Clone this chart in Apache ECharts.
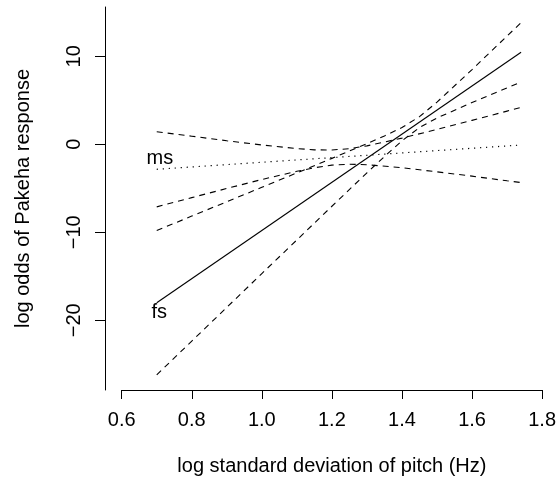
<!DOCTYPE html>
<html>
<head>
<meta charset="utf-8">
<script src="https://cdn.jsdelivr.net/npm/echarts@6/dist/echarts.min.js"></script>
<style>
  html, body { margin: 0; padding: 0; background: #fff; }
  #chart { width: 559px; height: 492px; }
</style>
</head>
<body>
<div id="chart"></div>
<script>
// fitted lines (straight on the log-odds scale), read at both ends
var fitX = [0.7, 1.74]
var fsFit = [-18.0, 10.45]
var msFit = [-2.84, -0.08]

// confidence bands for fs
var fsX = [0.7, 0.8, 0.9, 1.0, 1.1, 1.2, 1.3, 1.35, 1.4, 1.45, 1.5, 1.6, 1.7, 1.74]
var fsUpper = [-9.80, -8.16, -6.53, -4.89, -3.25, -1.60, 0.08, 0.95, 1.90, 3.14, 4.79, 8.49, 12.30, 13.82]
var fsLower = [-26.20, -22.36, -18.53, -14.69, -10.87, -7.04, -3.24, -1.39, 0.40, 1.90, 2.99, 4.75, 6.42, 7.08]

// confidence bands for ms
var msX = [0.7, 0.8, 0.9, 1.0, 1.1, 1.15, 1.2, 1.25, 1.3, 1.4, 1.5, 1.6, 1.7, 1.74]
var msUpper = [1.43, 0.92, 0.40, -0.08, -0.49, -0.63, -0.65, -0.50, -0.18, 0.70, 1.69, 2.72, 3.77, 4.19]
var msLower = [-7.11, -6.06, -5.02, -4.00, -3.07, -2.67, -2.37, -2.26, -2.32, -2.66, -3.13, -3.62, -4.15, -4.35]

var yTicks = [-20, -10, 0, 10]
var groupLabels = [
  { name: 'ms', value: [0.709, -1.56] },
  { name: 'fs', value: [0.707, -19.06] }
]

function pairs (xs, ys) {
  return xs.map(function (x, i) { return [x, ys[i]] })
}

function lineSeries (xs, ys, type) {
  return {
    type: 'line',
    data: pairs(xs, ys),
    symbol: 'none',
    silent: true,
    lineStyle: {
      color: '#000',
      width: type === 'dotted' ? 1.2 : 1.1,
      type: type === 'dashed' ? [6, 5] : (type === 'dotted' ? [1.2, 4.8] : 'solid')
    }
  }
}

var font = 'Liberation Sans, Arial, Helvetica, sans-serif'
var myChart = echarts.init(document.getElementById('chart'), null, { renderer: 'canvas' })
var option = {
  animation: false,
  backgroundColor: '#fff',
  grid: {
    left: 121.7,
    right: 15.7,
    top: 7,
    bottom: 102
  },
  xAxis: {
    type: 'value',
    min: 0.6,
    max: 1.8,
    interval: 0.2,
    splitLine: { show: false },
    axisLine: { show: true, onZero: false, lineStyle: { color: '#000', width: 1 } },
    axisTick: { show: true, length: 9, lineStyle: { color: '#000' } },
    axisLabel: {
      color: '#000',
      fontFamily: font,
      fontSize: 20,
      margin: 20,
      formatter: function (v) { return v.toFixed(1) }
    },
    name: 'log standard deviation of pitch (Hz)',
    nameLocation: 'middle',
    nameGap: 66,
    nameTextStyle: { color: '#000', fontFamily: font, fontSize: 20 }
  },
  yAxis: {
    type: 'value',
    min: -27.92,
    max: 15.6,
    offset: 16.7,
    splitLine: { show: false },
    axisLine: { show: true, onZero: false, lineStyle: { color: '#000', width: 1 } },
    axisTick: { show: true, length: 10, customValues: yTicks, lineStyle: { color: '#000' } },
    axisLabel: {
      color: '#000',
      fontFamily: font,
      fontSize: 20,
      rotate: 90,
      margin: 21,
      customValues: yTicks,
      formatter: function (v) { return String(v).replace('-', '\u2212') }
    },
    name: 'log odds of Pakeha response',
    nameLocation: 'middle',
    nameGap: 72,
    nameTextStyle: { color: '#000', fontFamily: font, fontSize: 20 }
  },
  series: [
    lineSeries(fitX, fsFit, 'solid'),
    lineSeries(fitX, msFit, 'dotted'),
    lineSeries(fsX, fsUpper, 'dashed'),
    lineSeries(fsX, fsLower, 'dashed'),
    lineSeries(msX, msUpper, 'dashed'),
    lineSeries(msX, msLower, 'dashed'),
    {
      type: 'scatter',
      data: groupLabels,
      symbolSize: 0,
      silent: true,
      label: {
        show: true,
        position: 'inside',
        formatter: '{b}',
        color: '#000',
        textBorderWidth: 0,
        opacity: 1,
        fontFamily: font,
        fontSize: 20
      }
    }
  ]
}
myChart.setOption(option)
</script>
</body>
</html>
